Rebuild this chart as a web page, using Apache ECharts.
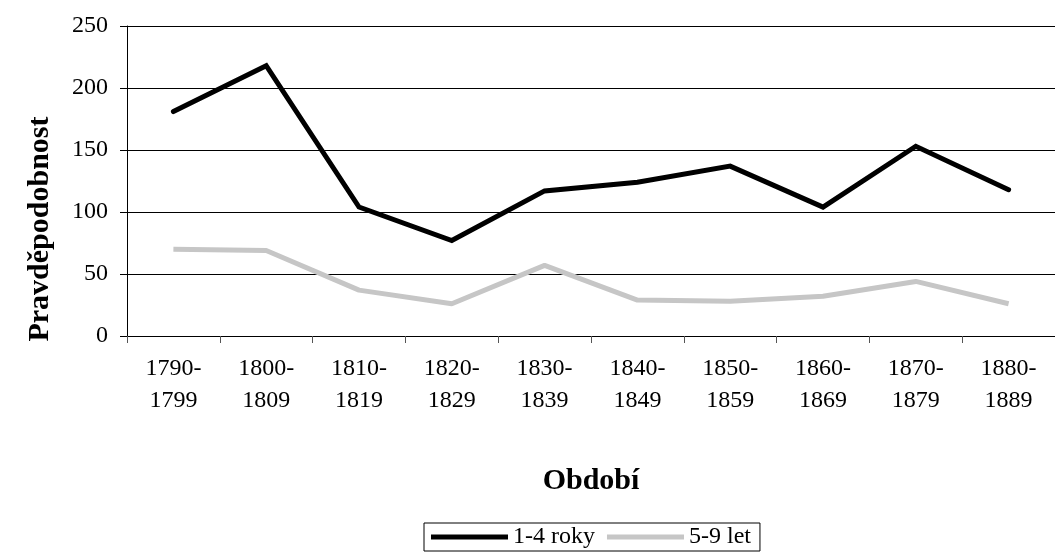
<!DOCTYPE html>
<html>
<head>
<meta charset="utf-8">
<script src="https://cdn.jsdelivr.net/npm/echarts@6/dist/echarts.min.js"></script>
<style>
  html, body { margin: 0; padding: 0; background: #fff; }
  #chart { width: 1055px; height: 554px; }
</style>
</head>
<body>
<div id="chart"></div>
<script>
  // --- DATA ---
  const periods = ['1790-\n1799', '1800-\n1809', '1810-\n1819', '1820-\n1829', '1830-\n1839',
                   '1840-\n1849', '1850-\n1859', '1860-\n1869', '1870-\n1879', '1880-\n1889'];
  const roky14 = [181, 218, 104, 77, 117, 124, 137, 104, 153, 118];
  const let59 = [70, 69, 37, 26, 57, 29, 28, 32, 44, 26];
  const yTicks = [0, 50, 100, 150, 200, 250];

  const serif = '"Liberation Serif", "Times New Roman", serif';

  const chart = echarts.init(document.getElementById('chart'), null, { renderer: 'canvas' });

  chart.setOption({
    animation: false,
    backgroundColor: '#fff',
    textStyle: { fontFamily: serif, color: '#000' },
    grid: { left: 127, top: 26, width: 937, height: 310, containLabel: false },
    legend: {
      left: 424,
      top: 523,
      padding: [2, 9, 2, 7],
      borderColor: '#000',
      borderWidth: 1,
      itemWidth: 77,
      itemHeight: 5,
      itemGap: 12,
      icon: 'rect',
      textStyle: { fontFamily: serif, fontSize: 24, color: '#000' },
      data: ['1-4 roky', '5-9 let']
    },
    xAxis: {
      type: 'category',
      data: periods,
      boundaryGap: true,
      name: 'Období',
      nameLocation: 'middle',
      nameGap: 130,
      nameTextStyle: { fontFamily: serif, fontSize: 30, fontWeight: 'bold', color: '#000' },
      axisLine: { lineStyle: { color: '#000', width: 1 } },
      axisTick: { show: true, length: 7, lineStyle: { color: '#555' } },
      axisLabel: { fontFamily: serif, fontSize: 24, color: '#000', lineHeight: 32, margin: 17 }
    },
    yAxis: {
      type: 'value',
      min: yTicks[0],
      max: yTicks[yTicks.length - 1],
      interval: 50,
      name: 'Pravděpodobnost',
      nameLocation: 'middle',
      nameGap: 72,
      nameTextStyle: { fontFamily: serif, fontSize: 30, fontWeight: 'bold', color: '#000', padding: [0, 96, 0, 0] },
      axisLine: { show: true, lineStyle: { color: '#000', width: 1 } },
      axisTick: { show: true, length: 7, lineStyle: { color: '#000' } },
      axisLabel: { fontFamily: serif, fontSize: 24, color: '#000', margin: 19 },
      splitLine: { show: true, lineStyle: { color: '#000', width: 1 } }
    },
    series: [
      {
        name: '1-4 roky',
        type: 'line',
        data: roky14,
        symbol: 'none',
        color: '#000',
        lineStyle: { color: '#000', width: 5, cap: 'round', join: 'miter' }
      },
      {
        name: '5-9 let',
        type: 'line',
        data: let59,
        symbol: 'none',
        color: '#c6c6c6',
        lineStyle: { color: '#c6c6c6', width: 5 }
      }
    ]
  });
</script>
</body>
</html>
